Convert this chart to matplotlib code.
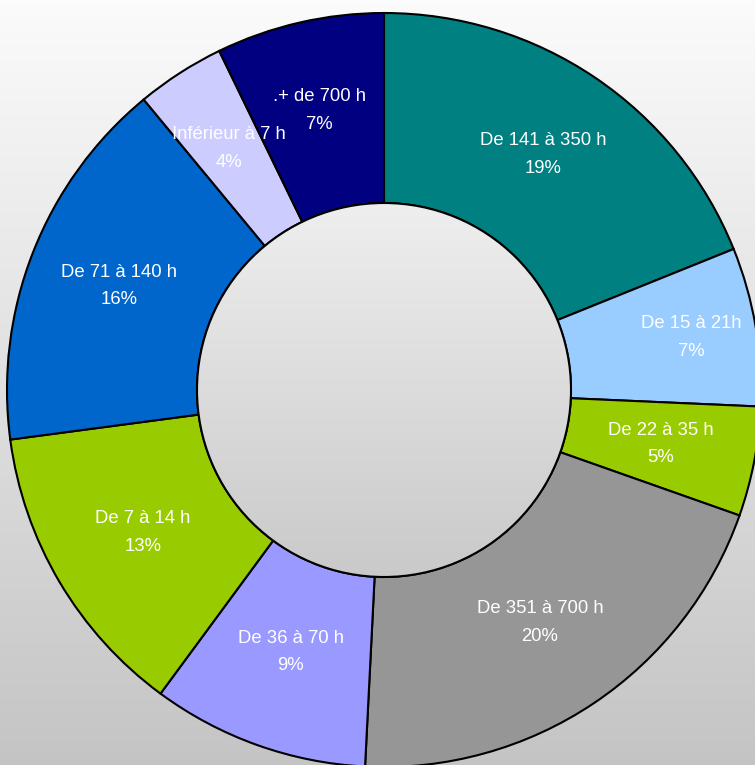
import numpy as np
import matplotlib
matplotlib.use("Agg")
import matplotlib.pyplot as plt
from matplotlib.patches import Circle

categories = ["De 141 à 350 h", "De 15 à 21h", "De 22 à 35 h", "De 351 à 700 h",
              "De 36 à 70 h", "De 7 à 14 h", "De 71 à 140 h", "Inférieur à 7 h", ".+ de 700 h"]
values = [18.9, 6.8, 4.7, 20.4, 9.3, 12.8, 16.1, 3.8, 7.2]
pct_labels = ["19%", "7%", "5%", "20%", "9%", "13%", "16%", "4%", "7%"]
colors = ["#008080", "#99CCFF", "#99CC00", "#969696", "#9999FF",
          "#99CC00", "#0066CC", "#CCCCFF", "#000080"]

W, H = 755, 765
fig = plt.figure(figsize=(W / 100, H / 100), dpi=100)
ax = fig.add_axes([0, 0, 1, 1])

# background gradient (top light, bottom grey)
grad = np.linspace(0, 1, 256).reshape(-1, 1)
top, bot = np.array([0.985, 0.985, 0.985]), np.array([0.77, 0.77, 0.77])
bg = top + (bot - top) * grad
bg = np.repeat(bg[:, None, :], 2, axis=1).reshape(256, 2, 3)
ax.imshow(bg, extent=[0, W, 0, H], origin="upper", aspect="auto", zorder=0)

cx, cy = 384, 375
R, r = 377, 187
wedges, _ = ax.pie(values, colors=colors, startangle=90, counterclock=False,
                   center=(cx, cy), radius=R, frame=True,
                   wedgeprops=dict(width=R - r, edgecolor="black", linewidth=1.5))
for w in wedges:
    w.set_zorder(2)

# hole gradient
htop, hbot = np.array([0.935, 0.935, 0.935]), np.array([0.79, 0.79, 0.79])
hg = htop + (hbot - htop) * grad
hg = np.repeat(hg[:, None, :], 2, axis=1).reshape(256, 2, 3)
im = ax.imshow(hg, extent=[cx - r, cx + r, cy - r, cy + r], origin="upper",
               aspect="auto", zorder=3)
clip = Circle((cx, cy), r, transform=ax.transData)
im.set_clip_path(clip)
ax.add_patch(Circle((cx, cy), r, fill=False, edgecolor="black", linewidth=1.5, zorder=4))

label_r = [284, 312, 282, 280, 278, 280, 285, 287, 287]
cum = np.cumsum([0] + values[:-1])
for i, (cat, pct) in enumerate(zip(categories, pct_labels)):
    mid = (cum[i] + values[i] / 2) / 100 * 2 * np.pi
    x = cx + label_r[i] * np.sin(mid)
    y = cy + label_r[i] * np.cos(mid)
    ax.text(x, y, f"{cat}\n{pct}", color="white", ha="center", va="center",
            fontsize=13.3, family=["Liberation Sans", "DejaVu Sans"],
            linespacing=1.8, zorder=5)

ax.set_xlim(0, W)
ax.set_ylim(0, H)
ax.set_aspect("equal")
ax.axis("off")
fig.savefig("out.png", dpi=100)
